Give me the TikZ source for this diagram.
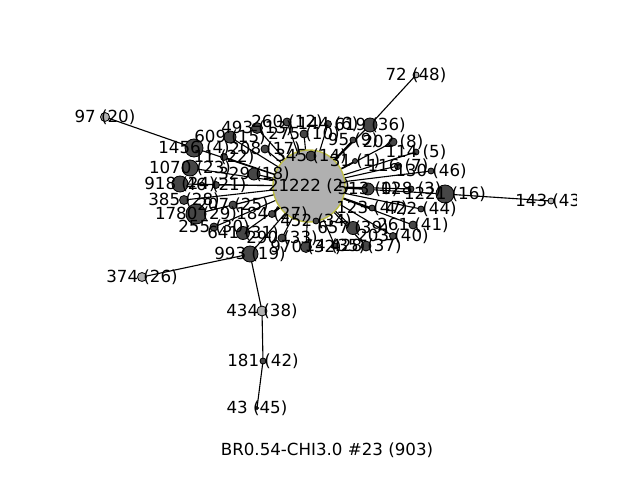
\documentclass[tikz,border=0pt]{standalone}
\usepackage{fontspec}
\setmainfont{DejaVu Sans}
\definecolor{nodegray}{HTML}{464646}
\definecolor{leafgray}{HTML}{B0B0B0}
\definecolor{hubrim}{RGB}{190,190,70}
\tikzset{
  vtx/.style={circle,draw=black,line width=0.6pt,fill=nodegray,inner sep=0pt,minimum size={#1*1.44pt}},
  leaf/.style={fill=leafgray},
  tag/.style={inner sep=0pt,font=\fontsize{12}{14}\selectfont},
  edge/.style={draw=black,line width=0.8pt}
}
\begin{document}
\begin{tikzpicture}[x=0.72pt,y=-0.72pt]
\useasboundingbox (0,0) rectangle (640,480);
% positions (pixels)
\coordinate (n2) at (309,186);
\coordinate (n48) at (416,75);
\coordinate (n36) at (370,125);
\coordinate (n20) at (105,117);
\coordinate (n4) at (194,148);
\coordinate (n15) at (230,137);
\coordinate (n13) at (257,128);
\coordinate (n12) at (287,122);
\coordinate (n6) at (328,124);
\coordinate (n10) at (304,134);
\coordinate (n9) at (353,140);
\coordinate (n8) at (393,142);
\coordinate (n17) at (265,149);
\coordinate (n14) at (311,156);
\coordinate (n1) at (355,161);
\coordinate (n5) at (416,152);
\coordinate (n7) at (398,166);
\coordinate (n46) at (431,171);
\coordinate (n0) at (368,189);
\coordinate (n3) at (411,189);
\coordinate (n16) at (445,194);
\coordinate (n43) at (551,201);
\coordinate (n47) at (372,208);
\coordinate (n44) at (421,209);
\coordinate (n41) at (413,225);
\coordinate (n40) at (393,236);
\coordinate (n39) at (353,228);
\coordinate (n34) at (316,221);
\coordinate (n32) at (306,247);
\coordinate (n35) at (335,246);
\coordinate (n37) at (366,246);
\coordinate (n33) at (282,238);
\coordinate (n31) at (243,233);
\coordinate (n30) at (214,227);
\coordinate (n29) at (196,214);
\coordinate (n28) at (184,200);
\coordinate (n25) at (233,205);
\coordinate (n27) at (272,214);
\coordinate (n24) at (180,184);
\coordinate (n21) at (216,185);
\coordinate (n23) at (190,168);
\coordinate (n18) at (254,174);
\coordinate (n22) at (224,157);
\coordinate (n19) at (250,254);
\coordinate (n26) at (142,277);
\coordinate (n38) at (262,311);
\coordinate (n42) at (263,361);
\coordinate (n45) at (257,408);

% edges
\draw[edge] (n48) -- (n36) (n20) -- (n4) (n43) -- (n16)
  (n26) -- (n19) (n19) -- (n38) (n38) -- (n42) (n42) -- (n45);
\draw[edge] (n2) -- (n36) (n2) -- (n4) (n2) -- (n15) (n2) -- (n13)
  (n2) -- (n12) (n2) -- (n6) (n2) -- (n10) (n2) -- (n9) (n2) -- (n8)
  (n2) -- (n17) (n2) -- (n14) (n2) -- (n1) (n2) -- (n5) (n2) -- (n7)
  (n2) -- (n46) (n2) -- (n0) (n2) -- (n3) (n2) -- (n16) (n2) -- (n47)
  (n2) -- (n44) (n2) -- (n41) (n2) -- (n40) (n2) -- (n39) (n2) -- (n34)
  (n2) -- (n32) (n2) -- (n35) (n2) -- (n37) (n2) -- (n33) (n2) -- (n31)
  (n2) -- (n30) (n2) -- (n29) (n2) -- (n28) (n2) -- (n25) (n2) -- (n27)
  (n2) -- (n24) (n2) -- (n21) (n2) -- (n23) (n2) -- (n18) (n2) -- (n22)
  (n2) -- (n19);

% vertices
\node[vtx=36,fill=leafgray,draw=hubrim,line width=1pt] (c2) at (n2) {};
\node[vtx=3,leaf] (c48) at (n48) {};
\node[vtx=7] (c36) at (n36) {};
\node[vtx=4.5,leaf] (c20) at (n20) {};
\node[vtx=9] (c4) at (n4) {};
\node[vtx=6] (c15) at (n15) {};
\node[vtx=5.5] (c13) at (n13) {};
\node[vtx=4] (c12) at (n12) {};
\node[vtx=3.5] (c6) at (n6) {};
\node[vtx=4] (c10) at (n10) {};
\node[vtx=3] (c9) at (n9) {};
\node[vtx=4] (c8) at (n8) {};
\node[vtx=4] (c17) at (n17) {};
\node[vtx=5] (c14) at (n14) {};
\node[vtx=2.5] (c1) at (n1) {};
\node[vtx=3] (c5) at (n5) {};
\node[vtx=3.5] (c7) at (n7) {};
\node[vtx=3] (c46) at (n46) {};
\node[vtx=6] (c0) at (n0) {};
\node[vtx=3] (c3) at (n3) {};
\node[vtx=9] (c16) at (n16) {};
\node[vtx=3,leaf] (c43) at (n43) {};
\node[vtx=3] (c47) at (n47) {};
\node[vtx=3] (c44) at (n44) {};
\node[vtx=4] (c41) at (n41) {};
\node[vtx=3.5] (c40) at (n40) {};
\node[vtx=6.5] (c39) at (n39) {};
\node[vtx=3] (c34) at (n34) {};
\node[vtx=5.5] (c32) at (n32) {};
\node[vtx=3] (c35) at (n35) {};
\node[vtx=5] (c37) at (n37) {};
\node[vtx=4] (c33) at (n33) {};
\node[vtx=6.5] (c31) at (n31) {};
\node[vtx=4] (c30) at (n30) {};
\node[vtx=10] (c29) at (n29) {};
\node[vtx=4.5] (c28) at (n28) {};
\node[vtx=4] (c25) at (n25) {};
\node[vtx=3.5] (c27) at (n27) {};
\node[vtx=8] (c24) at (n24) {};
\node[vtx=3.5] (c21) at (n21) {};
\node[vtx=8] (c23) at (n23) {};
\node[vtx=6] (c18) at (n18) {};
\node[vtx=3.5] (c22) at (n22) {};
\node[vtx=8] (c19) at (n19) {};
\node[vtx=4.5,leaf] (c26) at (n26) {};
\node[vtx=5,leaf] (c38) at (n38) {};
\node[vtx=3] (c42) at (n42) {};
\node[vtx=1.5] (c45) at (n45) {};

% labels, cut at the right edge of the plot area
\begin{scope}
\clip (0,0) rectangle (576,480);
\node[tag] (t2) at (n2) {21222 (2)};
\node[tag] (t48) at (n48) {72 (48)};
\node[tag] (t36) at (n36) {619 (36)};
\node[tag] (t20) at (n20) {97 (20)};
\node[tag] (t4) at (n4) {1456 (4)};
\node[tag] (t15) at (n15) {609 (15)};
\node[tag] (t13) at (n13) {493 (13)};
\node[tag] (t12) at (n12) {260 (12)};
\node[tag] (t6) at (n6) {144 (6)};
\node[tag] (t10) at (n10) {275 (10)};
\node[tag] (t9) at (n9) {95 (9)};
\node[tag] (t8) at (n8) {202 (8)};
\node[tag] (t17) at (n17) {208 (17)};
\node[tag] (t14) at (n14) {345 (14)};
\node[tag] (t1) at (n1) {31 (1)};
\node[tag] (t5) at (n5) {114 (5)};
\node[tag] (t7) at (n7) {116 (7)};
\node[tag] (t46) at (n46) {130 (46)};
\node[tag] (t0) at (n0) {513 (0)};
\node[tag] (t3) at (n3) {128 (3)};
\node[tag] (t16) at (n16) {1221 (16)};
\node[tag] (t43) at (n43) {143 (43)};
\node[tag] (t47) at (n47) {123 (47)};
\node[tag] (t44) at (n44) {422 (44)};
\node[tag] (t41) at (n41) {261 (41)};
\node[tag] (t40) at (n40) {203 (40)};
\node[tag] (t39) at (n39) {657 (39)};
\node[tag] (t34) at (n34) {452 (34)};
\node[tag] (t32) at (n32) {970 (32)};
\node[tag] (t35) at (n35) {14 (35)};
\node[tag] (t37) at (n37) {428 (37)};
\node[tag] (t33) at (n33) {290 (33)};
\node[tag] (t31) at (n31) {641 (31)};
\node[tag] (t30) at (n30) {255 (30)};
\node[tag] (t29) at (n29) {1780 (29)};
\node[tag] (t28) at (n28) {385 (28)};
\node[tag] (t25) at (n25) {207 (25)};
\node[tag] (t27) at (n27) {184 (27)};
\node[tag] (t24) at (n24) {918 (24)};
\node[tag] (t21) at (n21) {46 (21)};
\node[tag] (t23) at (n23) {1070 (23)};
\node[tag] (t18) at (n18) {329 (18)};
\node[tag] (t22) at (n22) {11 (22)};
\node[tag] (t19) at (n19) {993 (19)};
\node[tag] (t26) at (n26) {374 (26)};
\node[tag] (t38) at (n38) {434 (38)};
\node[tag] (t42) at (n42) {181 (42)};
\node[tag] (t45) at (n45) {43 (45)};
\end{scope}

\node[tag] (title) at (327,450) {BR0.54-CHI3.0 \#23 (903)};
\end{tikzpicture}
\end{document}
